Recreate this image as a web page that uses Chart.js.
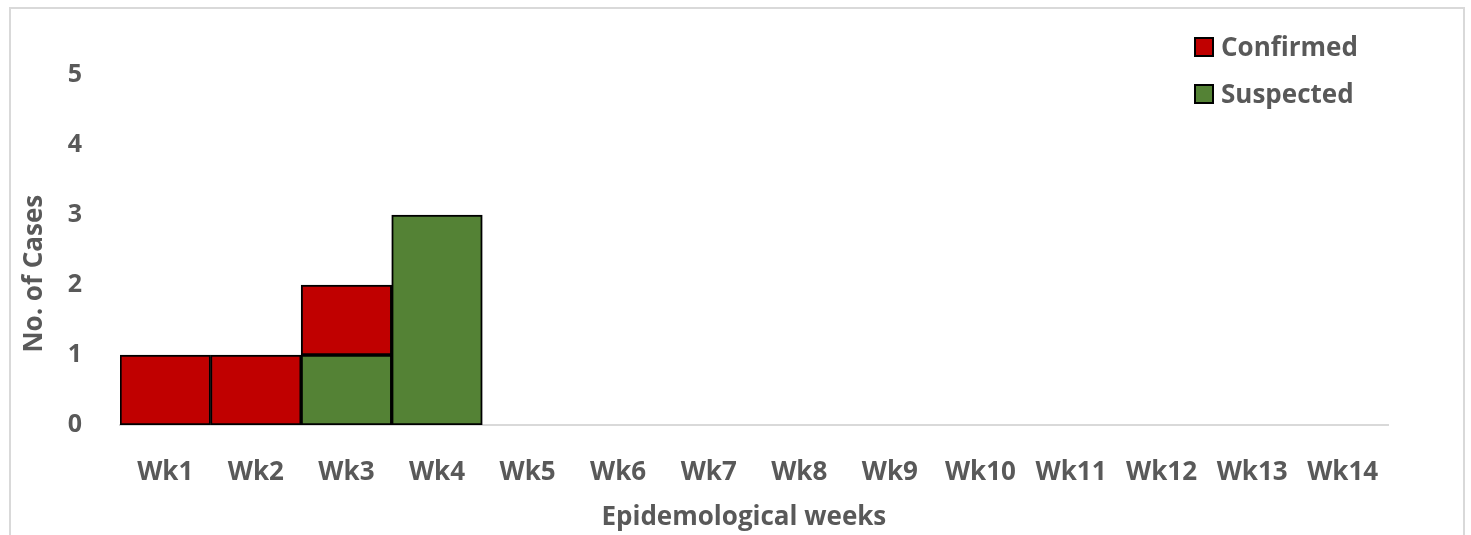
<!DOCTYPE html>
<html>
<head>
<meta charset="utf-8">
<script src="https://cdn.jsdelivr.net/npm/chart.js@4.4.1/dist/chart.umd.min.js"></script>
<style>
  html, body { margin: 0; padding: 0; background: #fff; overflow: hidden; }
  #frame {
    position: absolute; left: 9px; top: 7px; width: 1456px; height: 560px;
    border: 2px solid #d9d9d9; box-sizing: border-box;
  }
  #wrap { position: absolute; left: 0; top: 0; width: 1471px; height: 535px; }
</style>
</head>
<body>
<div id="frame"></div>
<div id="wrap"><canvas id="chart"></canvas></div>
<script>
// Données
const weeks = ['Wk1', 'Wk2', 'Wk3', 'Wk4', 'Wk5', 'Wk6', 'Wk7', 'Wk8', 'Wk9', 'Wk10', 'Wk11', 'Wk12', 'Wk13', 'Wk14'];
const suspected = [0, 0, 1, 3, 0, 0, 0, 0, 0, 0, 0, 0, 0, 0];
const confirmed = [1, 1, 1, 0, 0, 0, 0, 0, 0, 0, 0, 0, 0, 0];

const textColor = '#595959';
const fontFamily = "'Open Sans', 'Liberation Sans', sans-serif";

// Légende dessinée dans la zone du graphique, en haut à droite
const insideLegend = {
    id: 'insideLegend',
    afterDraw(chart) {
        const { ctx } = chart;
        const items = chart.data.datasets.slice().reverse();
        ctx.save();
        ctx.font = `bold 26px ${fontFamily}`;
        ctx.textBaseline = 'alphabetic';
        ctx.textAlign = 'left';
        items.forEach((ds, i) => {
            const y = 47 + i * 47;
            ctx.fillStyle = ds.backgroundColor;
            ctx.fillRect(1195, y - 9, 18, 18);
            ctx.lineWidth = 2;
            ctx.strokeStyle = '#000';
            ctx.strokeRect(1195, y - 9, 18, 18);
            ctx.fillStyle = textColor;
            ctx.fillText(ds.label, 1221, y + 9);
        });
        ctx.restore();
    }
};

new Chart(document.getElementById('chart'), {
    type: 'bar',
    data: {
        labels: weeks,
        datasets: [
            {
                label: 'Suspected',
                data: suspected,
                backgroundColor: '#548235',
                borderColor: '#000',
                borderWidth: 2,
                borderSkipped: false,
                categoryPercentage: 1,
                barPercentage: 1
            },
            {
                label: 'Confirmed',
                data: confirmed,
                backgroundColor: '#C00000',
                borderColor: '#000',
                borderWidth: 2,
                borderSkipped: false,
                categoryPercentage: 1,
                barPercentage: 1
            }
        ]
    },
    options: {
        responsive: true,
        maintainAspectRatio: false,
        animation: false,
        layout: { padding: { top: 75, right: 83, left: 0, bottom: 0 } },
        plugins: {
            legend: { display: false },
            tooltip: { enabled: false }
        },
        scales: {
            x: {
                stacked: true,
                grid: { display: false },
                border: { color: '#d9d9d9', width: 2 },
                ticks: {
                    color: textColor,
                    padding: 24,
                    maxRotation: 0,
                    autoSkip: false,
                    font: { family: fontFamily, size: 26, weight: 'bold' }
                },
                title: {
                    display: true,
                    // espaces finaux : recentre le titre sur toute la largeur
                    text: 'Epidemological weeks   ',
                    color: textColor,
                    padding: { top: 0, bottom: 2 },
                    font: { family: fontFamily, size: 26, weight: 'bold' }
                },
                afterFit(scale) { scale.height = 110; }
            },
            y: {
                stacked: true,
                min: 0,
                max: 5,
                grid: { display: false },
                border: { display: false },
                ticks: {
                    stepSize: 1,
                    color: textColor,
                    padding: 30,
                    font: { family: fontFamily, size: 25, weight: 'bold' }
                },
                title: {
                    display: true,
                    // espaces finaux : décale le titre vers le bas comme sur l'original
                    text: 'No. of Cases       ',
                    color: textColor,
                    padding: { top: 19, bottom: 0 },
                    font: { family: fontFamily, size: 26, weight: 'bold' }
                },
                afterFit(scale) { scale.width = 120; }
            }
        }
    },
    plugins: [insideLegend]
});
</script>
</body>
</html>
